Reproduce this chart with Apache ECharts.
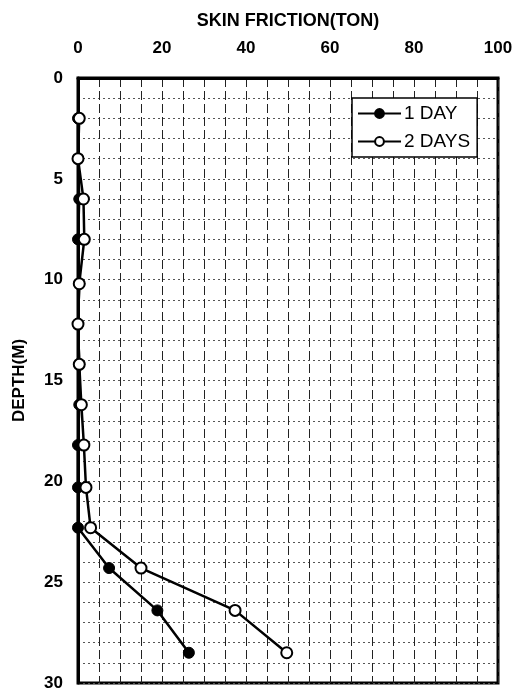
<!DOCTYPE html>
<html>
<head>
<meta charset="utf-8">
<script src="https://cdn.jsdelivr.net/npm/echarts@6/dist/echarts.min.js"></script>
<style>html,body{margin:0;padding:0;background:#fff;}#c{width:515px;height:692px;}</style>
</head>
<body>
<div id="c"></div>
<script>
var depths = [2, 4, 6, 8, 10.2, 12.2, 14.2, 16.2, 18.2, 20.3, 22.3, 24.3, 26.4, 28.5];
var day1 = [0, 0, 0.3, 0, 0.3, 0, 0.3, 0.3, 0, 0, 0, 7.4, 18.9, 26.4];
var day2 = [0.3, 0, 1.3, 1.5, 0.3, 0, 0.3, 0.8, 1.4, 1.9, 3.0, 15.0, 37.4, 49.7];
var xTickLabels = [0, 20, 40, 60, 80, 100];
var yTickLabels = [0, 5, 10, 15, 20, 25, 30];

function pairs(vals){ return vals.map(function(v,i){ return [v, depths[i]]; }); }
var font = '"Liberation Sans", Arial, sans-serif';
var chart = echarts.init(document.getElementById('c'));
chart.setOption({
  animation: false,
  backgroundColor: '#fff',
  grid: {left: 78, right: 17, top: 78, bottom: 9, containLabel: false, outerBoundsMode: 'none',
    show: true, borderColor: '#000', borderWidth: 3, backgroundColor: 'transparent'},
  legend: {
    orient: 'vertical', left: 352, top: 98, itemWidth: 43, itemHeight: 11, itemGap: 9,
    padding: [6, 7, 6, 5], borderColor: '#000', borderWidth: 1.5, backgroundColor: '#fff',
    textStyle: {fontFamily: font, fontSize: 19, color: '#000', padding: [0, 0, 0, -2]},
    data: ['1 DAY', '2 DAYS']
  },
  xAxis: {
    type: 'value', position: 'top', min: 0, max: 100, interval: 5,
    name: 'SKIN FRICTION(TON)', nameLocation: 'middle', nameGap: 48,
    nameTextStyle: {fontFamily: font, fontSize: 18, fontWeight: 'bold', color: '#000'},
    axisLine: {show: true, lineStyle: {color: '#000', width: 3}},
    axisTick: {show: false},
    axisLabel: {fontFamily: font, fontSize: 17, fontWeight: 'bold', color: '#000', margin: 21,
      formatter: function(v){ return xTickLabels.indexOf(v) >= 0 ? String(v) : ''; }},
    splitLine: {show: true, lineStyle: {color: '#222', width: 1, type: [9, 4]}}
  },
  yAxis: {
    type: 'value', inverse: true, min: 0, max: 30, interval: 1,
    name: 'DEPTH(M)', nameLocation: 'middle', nameGap: 50,
    nameTextStyle: {fontFamily: font, fontSize: 17, fontWeight: 'bold', color: '#000'},
    axisLine: {show: true, lineStyle: {color: '#000', width: 3}},
    axisTick: {show: false},
    axisLabel: {fontFamily: font, fontSize: 17, fontWeight: 'bold', color: '#000', margin: 15,
      formatter: function(v){ return yTickLabels.indexOf(v) >= 0 ? String(v) : ''; }},
    splitLine: {show: true, lineStyle: {color: '#555', width: 1, type: [2, 3]}}
  },
  series: [
    {name: '1 DAY', type: 'line', data: pairs(day1), symbol: 'circle', symbolSize: 11,
     lineStyle: {color: '#000', width: 2.5}, itemStyle: {color: '#000', borderColor: '#000', borderWidth: 1}},
    {name: '2 DAYS', type: 'line', data: pairs(day2), symbol: 'circle', symbolSize: 11,
     lineStyle: {color: '#000', width: 2.5}, itemStyle: {color: '#fff', borderColor: '#000', borderWidth: 2}}
  ]
});
</script>
</body>
</html>
